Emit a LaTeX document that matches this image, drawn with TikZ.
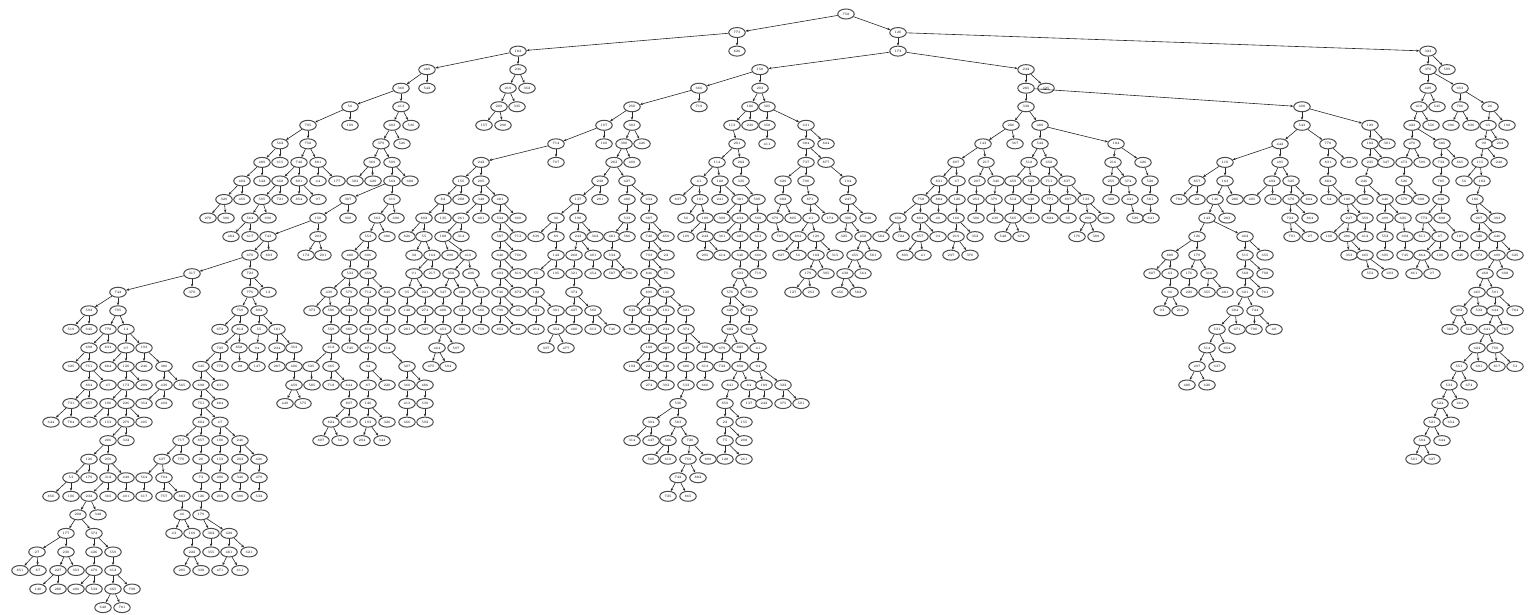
\documentclass[tikz,border=0pt]{standalone}
\usetikzlibrary{arrows.meta,shapes.geometric}
\tikzset{
  tnode/.style={ellipse, draw=black!70, line width=1pt, minimum width=16.5pt,
    minimum height=10pt, inner sep=0pt, fill=white, font=\fontsize{3.4}{4}\selectfont},
  tedge/.style={-{Stealth[length=3pt,width=2.4pt]}, line width=0.6pt, black!85},
}
\begin{document}
\begin{tikzpicture}[x=1pt,y=-1pt]
\useasboundingbox (0,0) rectangle (1536,615);
% root of the tree
\node[tnode] (n846-0) at (846,14) {758};
% every other node: x / level / parent x / parent level
\foreach \x/\r/\px/\pr in {
  % levels 1-4
  737/1/846/0, 898/1/846/0,
  518/2/737/1, 737/2/737/1, 898/2/898/1, 1428/2/898/1,
  427/3/518/2, 518/3/518/2, 760/3/898/2, 1026/3/898/2, 1428/3/1428/2, 1447/3/1428/2,
  401/4/427/3, 427/4/427/3, 508/4/518/3, 527/4/518/3, 699/4/760/3, 760/4/760/3,
  1026/4/1026/3, 1046/4/1026/3, 1428/4/1428/3, 1460/4/1428/3,
  % level 5
  350/5/401/4, 401/5/401/4, 499/5/508/4, 517/5/508/4, 632/5/699/4, 699/5/699/4,
  750/5/760/4, 767/5/760/4, 1026/5/1026/4, 1302/5/1026/4, 1419/5/1428/4, 1437/5/1428/4,
  1460/5/1460/4, 1490/5/1460/4,
  % level 6
  308/6/350/5, 350/6/350/5, 392/6/401/5, 411/6/401/5, 484/6/499/5, 503/6/499/5,
  604/6/632/5, 632/6/632/5, 732/6/750/5, 750/6/750/5, 767/6/767/5, 806/6/767/5,
  1011/6/1026/5, 1040/6/1026/5, 1302/6/1302/5, 1370/6/1302/5, 1412/6/1419/5, 1431/6/1419/5,
  1451/6/1460/5, 1471/6/1460/5, 1488/6/1490/5, 1507/6/1490/5,
  % level 7
  280/7/308/6, 308/7/308/6, 381/7/392/6, 402/7/392/6, 556/7/604/6, 604/7/604/6,
  624/7/632/6, 642/7/632/6, 737/7/732/6, 767/7/767/6, 806/7/806/6, 826/7/806/6,
  983/7/1011/6, 1015/7/1011/6, 1040/7/1040/6, 1116/7/1040/6, 1280/7/1302/6, 1328/7/1302/6,
  1370/7/1370/6, 1387/7/1370/6, 1412/7/1412/6, 1442/7/1412/6, 1484/7/1488/6, 1500/7/1488/6,
  % level 8
  262/8/280/7, 280/8/280/7, 299/8/308/7, 318/8/308/7, 372/8/381/7, 392/8/381/7,
  481/8/556/7, 556/8/556/7, 614/8/624/7, 632/8/624/7, 717/8/737/7, 741/8/737/7,
  806/8/806/7, 826/8/806/7, 956/8/983/7, 986/8/983/7, 1029/8/1040/7, 1049/8/1040/7,
  1113/8/1116/7, 1143/8/1116/7, 1225/8/1280/7, 1280/8/1280/7, 1328/8/1328/7, 1349/8/1328/7,
  1370/8/1370/7, 1386/8/1370/7, 1404/8/1412/7, 1422/8/1412/7, 1441/8/1442/7, 1460/8/1442/7,
  1480/8/1484/7, 1499/8/1484/7,
  % level 9
  242/9/262/8, 262/9/262/8, 280/9/299/8, 299/9/299/8, 318/9/318/8, 337/9/318/8,
  355/9/372/8, 373/9/372/8, 392/9/392/8, 410/9/392/8, 461/9/481/8, 481/9/481/8,
  600/9/614/8, 627/9/614/8, 699/9/717/8, 720/9/717/8, 741/9/741/8, 783/9/806/8,
  806/9/806/8, 848/9/826/8, 939/9/956/8, 957/9/956/8, 977/9/986/8, 996/9/986/8,
  1013/9/1029/8, 1031/9/1029/8, 1049/9/1049/8, 1067/9/1049/8, 1111/9/1113/8, 1128/9/1113/8,
  1150/9/1143/8, 1197/9/1225/8, 1225/9/1225/8, 1272/9/1280/8, 1291/9/1280/8, 1328/9/1328/8,
  1364/9/1370/8, 1404/9/1404/8, 1441/9/1441/8, 1464/9/1480/8, 1482/9/1480/8,
  % level 10
  224/10/242/9, 242/10/242/9, 262/10/280/9, 280/10/280/9, 299/10/299/9, 318/10/299/9,
  348/10/392/9, 392/10/392/9, 443/10/461/9, 461/10/461/9, 481/10/481/9, 500/10/481/9,
  578/10/600/9, 600/10/600/9, 627/10/627/9, 649/10/627/9, 678/10/699/9, 700/10/699/9,
  720/10/720/9, 740/10/720/9, 757/10/741/9, 783/10/783/9, 810/10/806/9, 848/10/848/9,
  921/10/939/9, 939/10/939/9, 957/10/957/9, 976/10/977/9, 994/10/996/9, 1013/10/1013/9,
  1031/10/1031/9, 1050/10/1049/9, 1068/10/1067/9, 1086/10/1067/9, 1111/10/1111/9,
  1130/10/1128/9, 1150/10/1150/9, 1179/10/1197/9, 1197/10/1197/9, 1215/10/1225/9,
  1235/10/1225/9, 1252/10/1272/9, 1273/10/1272/9, 1291/10/1291/9, 1309/10/1291/9,
  1329/10/1328/9, 1347/10/1328/9, 1365/10/1364/9, 1385/10/1364/9, 1404/10/1404/9,
  1421/10/1404/9, 1441/10/1441/9, 1475/10/1482/9,
  % level 11
  208/11/224/10, 226/11/224/10, 250/11/262/10, 268/11/262/10, 318/11/348/10, 348/11/348/10,
  377/11/392/10, 396/11/392/10, 424/11/443/10, 443/11/443/10, 461/11/481/10, 481/11/481/10,
  500/11/500/10, 518/11/500/10, 556/11/578/10, 578/11/578/10, 627/11/627/10, 649/11/649/10,
  686/11/700/10, 705/11/700/10, 722/11/740/10, 740/11/740/10, 758/11/757/10, 775/11/783/10,
  793/11/783/10, 811/11/810/10, 830/11/810/10, 848/11/848/10, 868/11/848/10, 898/11/921/10,
  920/11/921/10, 938/11/939/10, 956/11/957/10, 976/11/976/10, 995/11/994/10, 1013/11/1013/10,
  1031/11/1031/10, 1050/11/1050/10, 1068/11/1068/10, 1088/11/1086/10, 1106/11/1086/10,
  1135/11/1130/10, 1151/11/1150/10, 1207/11/1215/10, 1227/11/1215/10, 1290/11/1291/10,
  1310/11/1291/10, 1349/11/1347/10, 1365/11/1347/10, 1385/11/1385/10, 1403/11/1385/10,
  1424/11/1441/10, 1442/11/1441/10, 1479/11/1475/10, 1497/11/1475/10,
  % level 12
  231/12/250/11, 250/12/250/11, 268/12/318/11, 318/12/318/11, 368/12/377/11, 387/12/377/11,
  407/12/424/11, 424/12/424/11, 443/12/461/11, 461/12/461/11, 500/12/500/11, 518/12/500/11,
  536/12/556/11, 556/12/556/11, 578/12/578/11, 595/12/578/11, 612/12/627/11, 627/12/627/11,
  649/12/649/11, 666/12/649/11, 686/12/705/11, 705/12/705/11, 722/12/740/11, 740/12/740/11,
  758/12/758/11, 780/12/775/11, 798/12/811/11, 816/12/811/11, 844/12/848/11, 863/12/848/11,
  881/12/898/11, 901/12/898/11, 920/12/920/11, 938/12/920/11, 956/12/956/11, 975/12/956/11,
  1003/12/1013/11, 1021/12/1013/11, 1077/12/1088/11, 1096/12/1088/11, 1197/12/1207/11,
  1245/12/1207/11, 1292/12/1290/11, 1310/12/1290/11, 1329/12/1349/11, 1347/12/1349/11,
  1365/12/1365/11, 1385/12/1385/11, 1405/12/1403/11, 1422/12/1424/11, 1440/12/1424/11,
  1460/12/1442/11, 1479/12/1479/11, 1497/12/1479/11,
  % level 13
  250/13/268/12, 269/13/268/12, 306/13/318/12, 323/13/318/12, 350/13/368/12, 368/13/368/12,
  414/13/424/12, 432/13/424/12, 450/13/443/12, 468/13/443/12, 500/13/500/12, 518/13/500/12,
  556/13/556/12, 574/13/578/12, 593/13/578/12, 612/13/612/12, 649/13/649/12, 666/13/649/12,
  705/13/705/12, 722/13/705/12, 740/13/740/12, 758/13/758/12, 781/13/798/12, 798/13/798/12,
  816/13/816/12, 835/13/816/12, 855/13/863/12, 873/13/863/12, 905/13/920/12, 923/13/920/12,
  951/13/956/12, 970/13/956/12, 1170/13/1197/12, 1197/13/1197/12, 1245/13/1245/12,
  1265/13/1245/12, 1349/13/1347/12, 1365/13/1347/12, 1385/13/1385/12, 1405/13/1405/12,
  1422/13/1440/12, 1440/13/1440/12, 1460/13/1460/12, 1479/13/1479/12, 1497/13/1497/12,
  1515/13/1497/12,
  % level 14
  192/14/250/13, 250/14/250/13, 350/14/350/13, 368/14/368/13, 414/14/432/13, 432/14/432/13,
  451/14/468/13, 471/14/468/13, 500/14/500/13, 518/14/500/13, 536/14/556/13, 556/14/556/13,
  574/14/574/13, 593/14/593/13, 612/14/612/13, 629/14/612/13, 649/14/649/13, 666/14/649/13,
  740/14/740/13, 758/14/758/13, 808/14/816/13, 826/14/816/13, 845/14/855/13, 863/14/855/13,
  1152/14/1170/13, 1170/14/1170/13, 1189/14/1197/13, 1209/14/1197/13, 1245/14/1245/13,
  1265/14/1245/13, 1370/14/1365/13, 1390/14/1365/13, 1414/14/1422/13, 1432/14/1422/13,
  1485/14/1497/13, 1505/14/1497/13,
  % level 15
  118/15/192/14, 192/15/192/14, 250/15/250/14, 268/15/250/14, 329/15/350/14, 349/15/350/14,
  368/15/368/14, 387/15/368/14, 407/15/414/14, 425/15/414/14, 443/15/451/14, 462/15/451/14,
  481/15/471/14, 500/15/500/14, 518/15/500/14, 536/15/536/14, 574/15/574/14, 649/15/649/14,
  666/15/649/14, 730/15/740/14, 749/15/740/14, 793/15/808/14, 811/15/808/14, 840/15/845/14,
  858/15/845/14, 1170/15/1170/14, 1189/15/1189/14, 1207/15/1209/14, 1225/15/1209/14,
  1245/15/1245/14, 1265/15/1245/14, 1477/15/1485/14, 1495/15/1485/14,
  % level 16
  89/16/118/15, 118/16/118/15, 240/16/250/15, 259/16/250/15, 312/16/329/15, 331/16/329/15,
  349/16/349/15, 368/16/368/15, 387/16/387/15, 407/16/407/15, 425/16/425/15, 443/16/443/15,
  462/16/462/15, 481/16/481/15, 500/16/500/15, 518/16/500/15, 536/16/536/15, 556/16/536/15,
  574/16/574/15, 593/16/574/15, 632/16/649/15, 649/16/649/15, 666/16/666/15, 686/16/666/15,
  730/16/730/15, 749/16/730/15, 1162/16/1170/15, 1180/16/1170/15, 1235/16/1245/15,
  1255/16/1245/15, 1459/16/1477/15, 1479/16/1477/15, 1495/16/1495/15, 1515/16/1495/15,
  % level 17
  71/17/89/16, 89/17/89/16, 108/17/118/16, 126/17/118/16, 220/17/240/16, 240/17/240/16,
  259/17/259/16, 277/17/259/16, 331/17/331/16, 349/17/349/16, 368/17/368/16, 387/17/387/16,
  407/17/407/16, 425/17/425/16, 443/17/443/16, 462/17/462/16, 481/17/481/16, 500/17/500/16,
  518/17/500/16, 536/17/536/16, 556/17/556/16, 574/17/574/16, 593/17/593/16, 612/17/593/16,
  632/17/632/16, 649/17/649/16, 666/17/666/16, 686/17/686/16, 730/17/730/16, 749/17/749/16,
  1217/17/1235/16, 1237/17/1235/16, 1254/17/1255/16, 1274/17/1255/16, 1450/17/1459/16,
  1469/17/1459/16, 1487/17/1495/16, 1505/17/1495/16,
  % level 18
  89/18/108/17, 108/18/108/17, 126/18/126/17, 144/18/126/17, 220/18/240/17, 239/18/240/17,
  257/18/259/17, 277/18/277/17, 294/18/277/17, 331/18/331/17, 350/18/349/17, 368/18/368/17,
  387/18/387/17, 437/18/443/17, 456/18/443/17, 546/18/556/17, 566/18/556/17, 649/18/649/17,
  666/18/666/17, 686/18/686/17, 705/18/686/17, 722/18/730/17, 740/18/730/17, 758/18/749/17,
  1207/18/1217/17, 1227/18/1217/17, 1477/18/1487/17, 1495/18/1487/17,
  % level 19
  71/19/89/18, 89/19/89/18, 108/19/126/18, 126/19/126/18, 144/19/144/18, 164/19/144/18,
  201/19/220/18, 220/19/220/18, 240/19/239/18, 257/19/257/18, 277/19/277/18, 294/19/294/18,
  311/19/331/18, 331/19/331/18, 368/19/368/18, 407/19/387/18, 431/19/437/18, 448/19/437/18,
  632/19/649/18, 649/19/649/18, 666/19/666/18, 686/19/686/18, 705/19/705/18, 722/19/722/18,
  740/19/740/18, 758/19/758/18, 1197/19/1207/18, 1217/19/1207/18, 1459/19/1477/18,
  1479/19/1477/18, 1497/19/1495/18, 1515/19/1495/18,
  % level 20
  89/20/89/19, 108/20/89/19, 126/20/126/19, 144/20/126/19, 164/20/164/19, 182/20/164/19,
  201/20/201/19, 220/20/201/19, 294/20/294/19, 312/20/311/19, 331/20/331/19, 349/20/331/19,
  368/20/368/19, 387/20/368/19, 407/20/407/19, 425/20/407/19, 649/20/649/19, 666/20/666/19,
  686/20/686/19, 705/20/705/19, 730/20/740/19, 749/20/740/19, 764/20/758/19, 783/20/758/19,
  1187/20/1197/19, 1207/20/1197/19, 1449/20/1459/19, 1469/20/1459/19,
  % level 21
  71/21/89/20, 89/21/89/20, 108/21/126/20, 126/21/126/20, 144/21/164/20, 164/21/164/20,
  201/21/201/20, 220/21/201/20, 285/21/294/20, 303/21/294/20, 349/21/349/20, 368/21/368/20,
  407/21/407/20, 425/21/425/20, 678/21/686/20, 725/21/730/20, 749/21/749/20, 764/21/764/20,
  783/21/783/20, 801/21/783/20, 1440/21/1449/20, 1460/21/1449/20,
  % level 22
  51/22/71/21, 71/22/71/21, 89/22/108/21, 108/22/108/21, 126/22/126/21, 144/22/126/21,
  201/22/201/21, 220/22/201/21, 331/22/349/21, 349/22/349/21, 368/22/368/21, 387/22/368/21,
  407/22/407/21, 425/22/425/21, 651/22/678/21, 678/22/678/21, 725/22/725/21, 744/22/725/21,
  1432/22/1440/21, 1451/22/1440/21,
  % level 23
  108/23/126/22, 126/23/126/22, 181/23/201/22, 201/23/201/22, 220/23/220/22, 240/23/220/22,
  321/23/331/22, 340/23/331/22, 362/23/368/22, 382/23/368/22, 632/23/651/22, 651/23/651/22,
  668/23/678/22, 690/23/678/22, 725/23/725/22, 744/23/725/22, 1422/23/1432/22, 1442/23/1432/22,
  % level 24
  89/24/108/23, 108/24/108/23, 162/24/181/23, 181/24/181/23, 201/24/201/23, 220/24/220/23,
  240/24/240/23, 259/24/240/23, 651/24/668/23, 668/24/668/23, 688/24/690/23, 708/24/690/23,
  725/24/725/23, 744/24/725/23, 1414/24/1422/23, 1432/24/1422/23,
  % levels 25-32
  71/25/89/24, 89/25/89/24, 108/25/108/24, 126/25/108/24, 144/25/162/24, 164/25/162/24,
  201/25/201/24, 220/25/220/24, 240/25/240/24, 259/25/259/24, 678/25/688/24, 698/25/688/24,
  51/26/71/25, 71/26/71/25, 89/26/108/25, 108/26/108/25, 126/26/126/25, 144/26/144/25,
  164/26/164/25, 182/26/164/25, 201/26/201/25, 220/26/220/25, 240/26/240/25, 259/26/259/25,
  668/26/678/25, 688/26/678/25,
  78/27/89/26, 98/27/89/26, 182/27/182/26, 201/27/201/26,
  66/28/78/27, 94/28/78/27, 174/28/182/27, 192/28/182/27, 211/28/201/27, 229/28/201/27,
  37/29/66/28, 66/29/66/28, 94/29/94/28, 113/29/94/28, 192/29/192/28, 211/29/211/28,
  229/29/229/28, 249/29/229/28,
  20/30/37/29, 38/30/37/29, 58/30/66/29, 76/30/66/29, 94/30/94/29, 113/30/113/29,
  182/30/192/29, 201/30/192/29, 220/30/229/29, 240/30/229/29,
  38/31/58/30, 58/31/58/30, 76/31/94/30, 94/31/94/30, 113/31/113/30, 132/31/113/30,
  103/32/113/31, 122/32/113/31}{
  \pgfmathsetmacro\yy{14+18.55*\r}
  \pgfmathtruncatemacro\lab{mod(\x*7+\r*53,890)+11}
  \node[tnode] (n\x-\r) at (\x,\yy) {\lab};
  \draw[tedge] (n\px-\pr) -- (n\x-\r);
}
\end{tikzpicture}
\end{document}
